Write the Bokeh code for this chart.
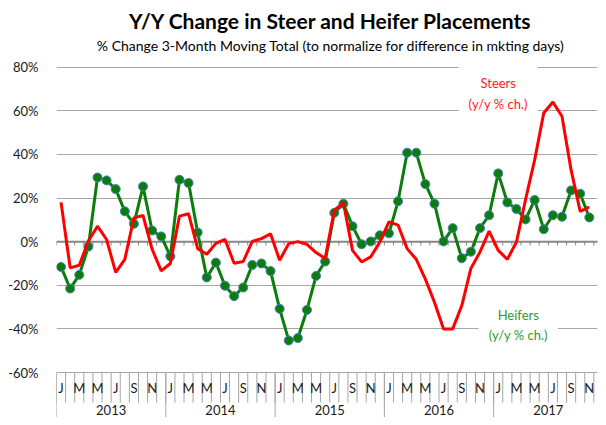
import numpy as np
from bokeh.plotting import figure
from bokeh.models import ColumnDataSource, Range1d, FixedTicker, Label
from bokeh.core.properties import value
from bokeh.embed import file_html
from bokeh.resources import INLINE

# ---------------- data ----------------
years = ["2013", "2014", "2015", "2016", "2017"]
month_letters = ["J", "F", "M", "A", "M", "J", "J", "A", "S", "O", "N", "D"]

heifers = [-11.6, -21.5, -15.2, -2.3, 29.4, 28.1, 24.1, 13.9, 8.2, 25.3, 5.1, 2.4,
           -6.7, 28.4, 26.9, 4.2, -16.4, -9.6, -20.2, -25.0, -21.0, -10.7, -10.0, -13.5,
           -30.8, -45.3, -44.2, -31.3, -15.7, -9.1, 13.2, 17.4, 7.1, -1.2, 0.1, 2.9,
           3.8, 18.5, 40.8, 40.8, 26.4, 17.4, 0.1, 6.2, -7.6, -4.6, 6.2, 12.1,
           31.3, 18.0, 15.0, 10.2, 19.1, 5.7, 12.1, 11.4, 23.5, 22.0, 11.1]

steers = [18.0, -12.0, -10.8, 0.3, 7.1, 1.0, -14.1, -8.1, 10.9, 12.0, -3.5, -13.4,
          -10.0, 11.7, 12.8, -3.2, -5.8, -0.8, 1.0, -9.9, -9.1, 0.1, 1.4, 3.6,
          -8.5, -0.9, 0.0, -1.2, -5.0, -7.7, 14.4, 17.8, -4.0, -9.3, -7.0, -0.2,
          9.1, 7.6, -3.2, -8.1, -17.2, -27.8, -40.0, -40.0, -29.3, -12.3, -4.7, 4.8,
          -4.0, -8.1, -0.2, 19.3, 37.5, 59.0, 64.0, 57.5, 32.9, 13.9, 15.9]

y_ticks = [-60, -40, -20, 0, 20, 40, 60, 80]

title_text = "Y/Y Change in Steer and Heifer Placements"
subtitle_text = "% Change 3-Month Moving Total (to normalize for difference in mkting days)"

# ---------------- derived ----------------
n_cat = len(years) * len(month_letters)
x = np.arange(len(heifers)) + 0.5
y_bottom = min(y_ticks)
y_top = max(y_ticks)

FONT = "Lato"
GRID = "#a6a6a6"
TXT = "#1a1a1a"

p = figure(width=598, height=417,
           x_range=Range1d(0, 59.4), y_range=Range1d(-80.63, 110.58),
           output_backend="svg", toolbar_location=None, x_axis_location=None,
           min_border_left=56, min_border_right=1, min_border_top=0, min_border_bottom=0)
p.outline_line_color = None
p.background_fill_color = "white"
p.xgrid.visible = False

ticker = FixedTicker(ticks=y_ticks, minor_ticks=[])
p.yaxis.ticker = ticker
p.yaxis.bounds = (y_bottom, y_top)
p.yaxis.major_label_overrides = {t: f"{t}%" for t in y_ticks}
p.yaxis.axis_line_color = None
p.yaxis.major_tick_line_color = None
p.yaxis.minor_tick_line_color = None
p.yaxis.major_label_standoff = 12
p.yaxis.major_label_text_font = FONT
p.yaxis.major_label_text_font_size = "13px"
p.yaxis.major_label_text_color = TXT

p.ygrid.ticker = ticker
p.ygrid.grid_line_color = GRID
p.ygrid.grid_line_width = 1

# zero axis line with month tick marks
bounds = np.arange(n_cat + 1)
p.segment(x0=[0], y0=[0], x1=[n_cat], y1=[0], line_color="#868686", line_width=2)
p.segment(x0=bounds, y0=np.zeros(len(bounds)), x1=bounds, y1=np.full(len(bounds), -1.8),
          line_color="#868686", line_width=1)

# category axis (two levels) below the plot
cell_bottom = y_bottom - 13.8
p.segment(x0=bounds, y0=np.full(len(bounds), y_bottom), x1=bounds,
          y1=np.full(len(bounds), cell_bottom), line_color=GRID, line_width=1)
year_bounds = np.arange(0, n_cat + 1, len(month_letters))
p.segment(x0=year_bounds, y0=np.full(len(year_bounds), y_bottom), x1=year_bounds,
          y1=np.full(len(year_bounds), -90), line_color=GRID, line_width=1)

m_idx = [i for i in range(n_cat) if i % 2 == 0]
m_src = ColumnDataSource(dict(x=[i + 0.5 for i in m_idx],
                              y=[y_bottom - 7.3] * len(m_idx),
                              t=[month_letters[i % 12] for i in m_idx]))
p.text(x="x", y="y", text="t", source=m_src, text_font=value(FONT),
       text_font_size="13px", text_align="center", text_baseline="middle",
       text_color=TXT)

yr_src = ColumnDataSource(dict(x=[k * 12 + 6 for k in range(len(years))],
                               y=[y_bottom - 17.0] * len(years), t=years))
p.text(x="x", y="y", text="t", source=yr_src, text_font=value(FONT),
       text_font_size="13px", text_align="center", text_baseline="middle",
       text_color=TXT)

# series
src = ColumnDataSource(dict(x=x, heifers=heifers, steers=steers))
p.line("x", "heifers", source=src, line_color="#0a7d0a", line_width=3)
p.scatter("x", "heifers", source=src, size=9, fill_color="#0a7d0a",
          line_color="#4a7ebb", line_width=1)
p.line("x", "steers", source=src, line_color="#ff0000", line_width=3)

# series labels
p.add_layout(Label(x=48.5, y=67.9, text="Steers\n(y/y % ch.)", text_align="center",
                   text_baseline="middle", text_font=FONT, text_font_size="13px",
                   text_color="#ff1a1a", text_line_height=1.3,
                   background_fill_color="white", padding=10))
p.add_layout(Label(x=50.7, y=-38.2, text="Heifers\n(y/y % ch.)", text_align="center",
                   text_baseline="middle", text_font=FONT, text_font_size="13px",
                   text_color="#2e9b2e", text_line_height=1.3,
                   background_fill_color="white", padding=10))

# titles
p.add_layout(Label(x=30.1, y=101.4, text=title_text, text_align="center",
                   text_baseline="middle", text_font=FONT, text_font_size="21px",
                   text_font_style="bold", text_color="black"))
p.add_layout(Label(x=30.1, y=89.95, text=subtitle_text, text_align="center",
                   text_baseline="middle", text_font=FONT, text_font_size="14px",
                   text_color="black"))

open("out.html", "w").write(file_html(p, INLINE))
